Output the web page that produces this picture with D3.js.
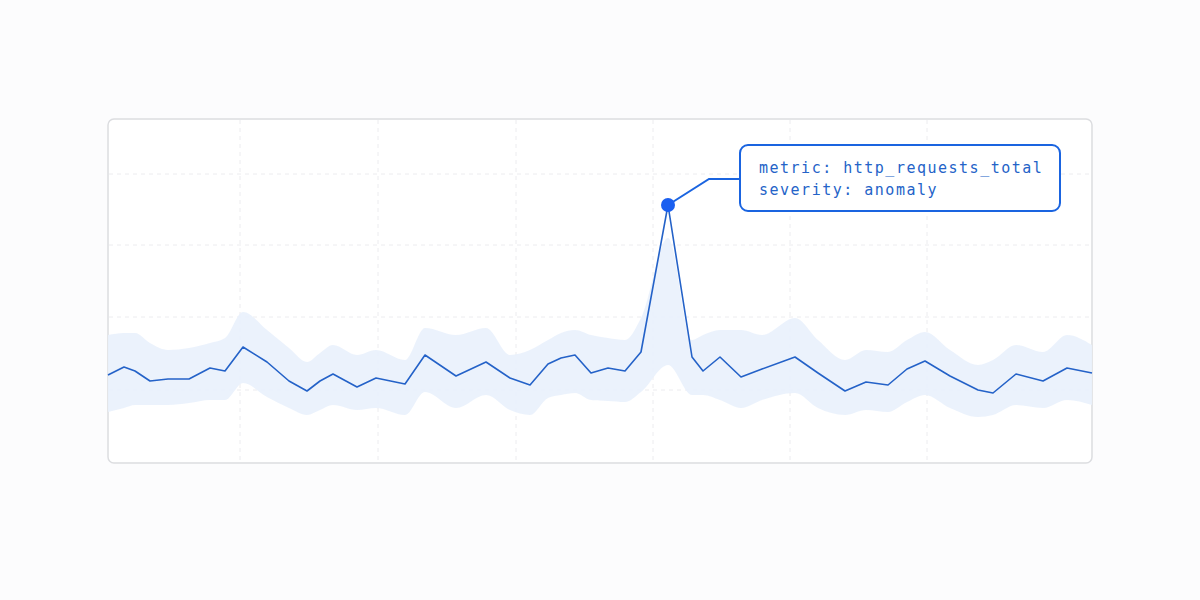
<!DOCTYPE html>
<html><head><meta charset="utf-8">
<script src="https://cdn.jsdelivr.net/npm/d3@7"></script>
<style>body{margin:0;background:#fcfcfd;}</style></head>
<body><svg id="c" width="1200" height="600"></svg>
<script>
const times = [0,16,27,42,60,81,102,117,135,159,181,199,212,225,249,268,297,317,348,378,402,422,440,453,467,483,500,517,533,560,584,595,612,633,654,687,710,737,758,780,799,817,842,870,885,908,935,959,984];
const values = [88,96,92,82,84,84,95,92,116,101,82,72,82,89,76,85,79,108,87,101,85,78,99,105,108,90,95,92,111,258,106,92,106,86,94,106,90,72,81,78,94,102,87,73,70,89,82,95,90];
const upper = [128,130,130,120,113,115,120,125,151,133,115,101,110,118,108,113,103,135,128,135,108,113,123,130,133,128,125,123,145,225,123,128,133,133,128,145,123,103,113,111,123,131,113,98,103,118,111,128,118];
const lower = [51,55,58,58,58,60,63,63,80,66,55,48,53,58,53,55,48,71,55,68,53,48,65,68,70,63,62,61,71,98,68,68,63,55,63,70,55,48,53,51,61,68,55,46,48,58,55,63,58];
const xGrid = [132,270,408,545,682,819];
const yGrid = [73,146,218,289];
const labelLines = ["metric: http_requests_total","severity: anomaly"];
const anomalyIndex = 29;

const svg = d3.select("#c");
const L=108,R=1092,T=119,B=463;
const x = d3.scaleLinear().domain([0,984]).range([L,R]);
const y = d3.scaleLinear().domain([0,344]).range([B,T]);

svg.append("rect").attr("x",L).attr("y",T).attr("width",R-L).attr("height",B-T).attr("rx",6)
  .attr("fill","#fff").attr("stroke","#dcdde0").attr("stroke-width",1.5);

const g = svg.append("g");
g.selectAll(".vg").data(xGrid).join("line").attr("x1",d=>x(d)).attr("x2",d=>x(d)).attr("y1",T+1).attr("y2",B-1)
  .attr("stroke","#ececef").attr("stroke-dasharray","4,4");
g.selectAll(".hg").data(yGrid).join("line").attr("y1",d=>y(d)).attr("y2",d=>y(d)).attr("x1",L+1).attr("x2",R-1)
  .attr("stroke","#ececef").attr("stroke-dasharray","4,4");

const pts = times.map((t,i)=>({t,v:values[i],u:upper[i],l:lower[i]}));
g.append("path").datum(pts).attr("fill","#e9f1fc").attr("opacity",0.9)
  .attr("d",d3.area().x(d=>x(d.t)).y0(d=>y(d.l)).y1(d=>y(d.u)).curve(d3.curveMonotoneX));
g.append("path").datum(pts).attr("fill","none").attr("stroke","#2462c8").attr("stroke-width",1.6)
  .attr("stroke-linejoin","round")
  .attr("d",d3.line().x(d=>x(d.t)).y(d=>y(d.v)));

const a = pts[anomalyIndex];
const ax=x(a.t), ay=y(a.v);
const bx=740, by=145, bw=320, bh=66;
g.append("path").attr("d",`M${ax},${ay} L${ax+41},${by+34} L${bx},${by+34}`).attr("fill","none")
  .attr("stroke","#1a64e0").attr("stroke-width",2);
g.append("circle").attr("cx",ax).attr("cy",ay).attr("r",7).attr("fill","#1a5ff0");
g.append("rect").attr("x",bx).attr("y",by).attr("width",bw).attr("height",bh).attr("rx",8)
  .attr("fill","#fff").attr("stroke","#1a64e0").attr("stroke-width",2);
g.selectAll(".lbl").data(labelLines).join("text").attr("x",bx+19).attr("y",(d,i)=>by+28+i*22)
  .attr("font-family","'DejaVu Sans Mono',monospace").attr("font-size",15).attr("letter-spacing",1.5)
  .attr("fill","#2463c8").text(d=>d);
</script></body></html>
